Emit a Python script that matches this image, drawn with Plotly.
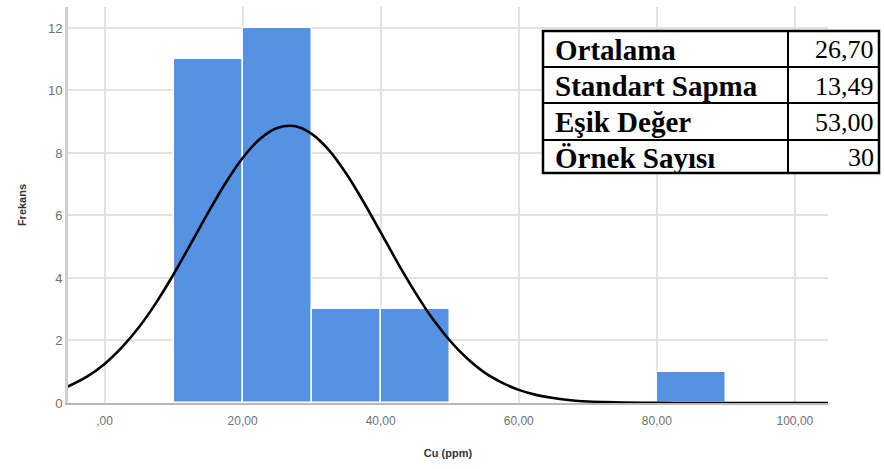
import plotly.graph_objects as go

# ---- data ----
bin_centers = [15, 25, 35, 45, 85]
bin_counts = [11, 12, 3, 3, 1]
bin_width = 10

curve_x = [-7.5, -5, -2.5, 0, 2.5, 5, 7.5, 10, 12.5, 15, 17.5, 20, 22.5, 25, 27.5, 30, 32.5, 35, 37.5,
           40, 42.5, 45, 47.5, 50, 52.5, 55, 57.5, 60, 62.5, 65, 67.5, 70, 72.5, 75, 80, 85, 90, 95, 100, 107.5]
curve_y = [0.33, 0.56, 0.85, 1.25, 1.78, 2.43, 3.22, 4.12, 5.10, 6.09, 7.03, 7.84, 8.45, 8.80, 8.86, 8.61, 8.09, 7.34, 6.44,
           5.46, 4.47, 3.54, 2.70, 2.00, 1.43, 0.98, 0.66, 0.42, 0.26, 0.16, 0.09, 0.05, 0.03, 0.015, 0.004, 0.0, 0.0, 0.0, 0.0, 0.0]

x_tickvals = [0, 20, 40, 60, 80, 100]
x_ticktext = [",00", "20,00", "40,00", "60,00", "80,00", "100,00"]
y_tickvals = [0, 2, 4, 6, 8, 10, 12]

table_labels = ["Ortalama", "Standart Sapma", "Eşik Değer", "Örnek Sayısı"]
table_values = ["26,70", "13,49", "53,00", "30"]

# ---- figure ----
W, H = 884, 469
L, R, T, B = 68, 56, 7, 66
pw, ph = W - L - R, H - T - B

def px(xp):
    return (xp - L) / pw

def py(yp):
    return (H - B - yp) / ph

fig = go.Figure()
fig.add_trace(go.Bar(
    x=bin_centers, y=bin_counts, width=[bin_width] * len(bin_centers),
    marker=dict(color="#5592e3", line=dict(color="white", width=1.5)),
    showlegend=False, hoverinfo="skip",
))
fig.add_trace(go.Scatter(
    x=curve_x, y=curve_y, mode="lines", line=dict(color="black", width=2.6, shape="spline", smoothing=0.8),
    showlegend=False, hoverinfo="skip",
))

fig.update_layout(
    width=W, height=H, margin=dict(l=L, r=R, t=T, b=B),
    paper_bgcolor="white", plot_bgcolor="white",
    bargap=0,
    font=dict(family="Liberation Sans, Arial", color="#666666", size=12),
    xaxis=dict(
        range=[-5.3, 104.8], tickvals=x_tickvals, ticktext=x_ticktext,
        showgrid=True, gridcolor="#e2e2e2", gridwidth=1.5,
        showline=True, linecolor="#b8b8b8", linewidth=2,
        ticks="", zeroline=False, ticklabelstandoff=6,
        title=dict(text="<b>Cu (ppm)</b>", font=dict(size=11, color="#333333"), standoff=22),
        tickfont=dict(size=12, color="#707070"),
    ),
    yaxis=dict(
        range=[0, 12.67], tickvals=y_tickvals,
        showgrid=True, gridcolor="#e2e2e2", gridwidth=1.5,
        showline=True, linecolor="#d0d0d0", linewidth=3,
        ticks="", zeroline=False,
        title=dict(text="<b>Frekans</b>", font=dict(size=11, color="#333333"), standoff=20),
        tickfont=dict(size=13, color="#707070"),
    ),
)

# ---- stats table ----
tx0, tx1, tdiv = 543, 879, 788
row_edges = [31, 67, 103, 140, 173]
fig.add_shape(type="rect", xref="paper", yref="paper",
              x0=px(tx0), x1=px(tx1), y0=py(row_edges[-1]), y1=py(row_edges[0]),
              fillcolor="white", line=dict(color="black", width=2.5), layer="above")
fig.add_shape(type="line", xref="paper", yref="paper",
              x0=px(tdiv), x1=px(tdiv), y0=py(row_edges[-1]), y1=py(row_edges[0]),
              line=dict(color="black", width=2), layer="above")
for e in row_edges[1:-1]:
    fig.add_shape(type="line", xref="paper", yref="paper",
                  x0=px(tx0), x1=px(tx1), y0=py(e), y1=py(e),
                  line=dict(color="black", width=2), layer="above")
for i, (lab, val) in enumerate(zip(table_labels, table_values)):
    yc = (row_edges[i] + row_edges[i + 1]) / 2 + 1
    fig.add_annotation(xref="paper", yref="paper", x=px(tx0 + 10), y=py(yc),
                       text="<b>" + lab + "</b>", showarrow=False, xanchor="left", yanchor="middle",
                       font=dict(family="Liberation Serif, Times New Roman", size=29, color="black"))
    fig.add_annotation(xref="paper", yref="paper", x=px(tx1 - 3), y=py(yc),
                       text=val, showarrow=False, xanchor="right", yanchor="middle",
                       font=dict(family="Liberation Serif, Times New Roman", size=26, color="black"))

fig.write_html("out.html")
